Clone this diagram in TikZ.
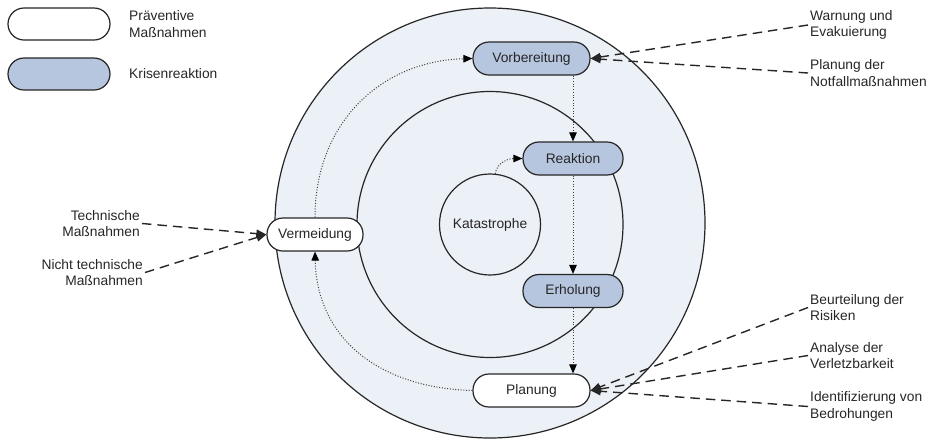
\documentclass[tikz,border=0pt]{standalone}
\usepackage{fontspec}
\setmainfont{Liberation Sans}
\usetikzlibrary{arrows.meta}
\definecolor{ringfill}{HTML}{ECF0F7}
\definecolor{bluebox}{HTML}{B7C6DF}
\definecolor{txt}{HTML}{262626}
\definecolor{edge}{HTML}{262626}
\begin{document}
\begin{tikzpicture}[x=1pt,y=-1pt,
  font=\fontsize{13.8}{16.5}\selectfont, text=txt,
  phase/.style={draw=edge, line width=1.2pt, rounded corners=16pt,
    minimum height=33pt, inner sep=0pt, text=txt},
  prevbox/.style={phase, fill=white},
  crisisbox/.style={phase, fill=bluebox},
  ring/.style={circle, draw=edge, line width=1.2pt, fill=ringfill, inner sep=0pt},
  dotarrow/.style={draw=black!75, line width=1pt, dash pattern=on 1pt off 1.7pt,
    -{Triangle[length=9pt,width=7.5pt,black]}},
  dasharrow/.style={draw=edge, line width=1.4pt, dash pattern=on 9.5pt off 6pt,
    -{Triangle[length=10pt,width=8pt]}},
  lblR/.style={anchor=west, align=left, inner sep=2pt},
  lblL/.style={anchor=east, align=right, inner sep=2pt}]
\useasboundingbox (0,0) rectangle (934,440);

% legend
\node[prevbox, minimum width=102pt, minimum height=32pt] (legA) at (59,24) {};
\node[crisisbox, minimum width=102pt, minimum height=32pt] (legB) at (59,74) {};
\node[lblR] (legAt) at (127,24) {Präventive\\Maßnahmen};
\node[lblR] (legBt) at (127,74) {Krisenreaktion};

% rings
\node[ring, minimum size=430pt] (outer) at (490,223) {};
\node[ring, minimum size=266pt] (middle) at (490,224.5) {};
\node[ring, minimum size=101pt] (kat) at (490,224.5) {Katastrophe};

% phases
\node[crisisbox, minimum width=117pt] (vorb) at (531.5,58.5) {Vorbereitung};
\node[crisisbox, minimum width=100pt] (reak) at (573,158.5) {Reaktion};
\node[crisisbox, minimum width=100pt] (erh) at (573,291) {Erholung};
\node[prevbox, minimum width=117pt] (plan) at (531.5,390.5) {Planung};
\node[prevbox, minimum width=96pt] (verm) at (315,234.5) {Vermeidung};

% cycle (dotted)
\draw[dotarrow] (verm.north) .. controls (315,124) and (380,61) .. (vorb.west);
\draw[dotarrow] (vorb.south -| reak.north) -- (reak.north);
\draw[dotarrow] (reak.south) -- (erh.north);
\draw[dotarrow] (erh.south) -- (erh.south |- plan.north);
\draw[dotarrow] (plan.west) .. controls (381,388) and (317,340) .. (verm.south);
\draw[dotarrow] (kat.84) .. controls (496.5,163) and (508,158.5) .. (reak.west);

% external labels
\node[lblR] (warn) at (808,25) {Warnung und\\Evakuierung};
\node[lblR] (notf) at (808,73) {Planung der\\Notfallmaßnahmen};
\node[lblL] (tech) at (142,223.5) {Technische\\Maßnahmen};
\node[lblL] (ntech) at (145,272.5) {Nicht technische\\Maßnahmen};
\node[lblR] (risk) at (808,307.5) {Beurteilung der\\Risiken};
\node[lblR] (verl) at (808,355.5) {Analyse der\\Verletzbarkeit};
\node[lblR] (bedr) at (808,406.5) {Identifizierung von\\Bedrohungen};

\draw[dasharrow] (warn.west) -- (vorb.east);
\draw[dasharrow] (notf.west) -- (vorb.east);
\draw[dasharrow] (tech.east) -- (verm.west);
\draw[dasharrow] (ntech.east) -- (verm.west);
\draw[dasharrow] (risk.west) -- (plan.east);
\draw[dasharrow] (verl.west) -- (plan.east);
\draw[dasharrow] (bedr.west) -- (plan.east);
\end{tikzpicture}
\end{document}
